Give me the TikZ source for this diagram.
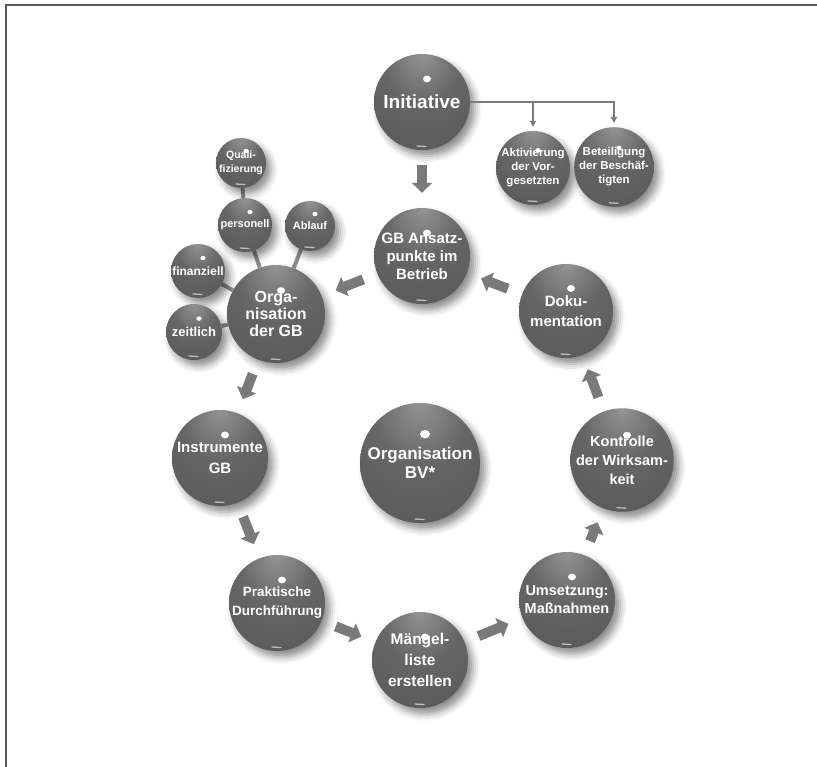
\documentclass[tikz,border=0pt]{standalone}
\usepackage{fontspec}
\setmainfont{Liberation Sans}
\usetikzlibrary{arrows.meta,shadows.blur,backgrounds}
\definecolor{arrowgray}{HTML}{7A7A7A}
\pgfdeclareradialshading{sphere}{\pgfpoint{0bp}{25bp}}{color(0bp)=(black!42);color(19bp)=(black!60);color(37bp)=(black!64);color(48bp)=(black!80);color(55bp)=(black!93);color(75bp)=(black!93)}
\tikzset{hl size/.store in=\hlsize, hl size=4pt}
\tikzset{ball/.style={circle, shading=sphere, text=white, align=center, inner sep=0pt,
  blur shadow={shadow xshift=5pt, shadow yshift=-6pt, shadow blur radius=7pt, shadow opacity=45},
  path picture={
    \path (path picture bounding box.north) -- (path picture bounding box.center) coordinate[pos=.52] (hl);
    \fill[white] ([xshift=5pt]hl) ellipse [x radius=\hlsize, y radius=0.85*\hlsize];
    \draw[white, opacity=.6, line width=1.3pt, line cap=round]
      ([xshift=-5pt,yshift=4pt]path picture bounding box.south) -- ([xshift=4pt,yshift=3.5pt]path picture bounding box.south);
  }}}

\begin{document}
\begin{tikzpicture}[x=1pt, y=-1pt,
  bigball/.style={ball, minimum size=96pt, hl size=4pt},
  smallball/.style={ball, minimum size=52pt, hl size=2.6pt},
  cyclearrow/.style={draw=arrowgray, line width=10pt, -{Triangle[width=20pt,length=10pt]},
    shorten <=15pt, shorten >=15pt},
  branch/.style={draw=arrowgray, line width=1.8pt, -{Triangle[width=6pt,length=6pt]}, shorten >=4pt},
  spoke/.style={draw=black!45, line width=4pt}]
\useasboundingbox (0,0) rectangle (817,767);
\draw[black!65, line width=1.5pt] (6,767) -- (6,5) -- (817,5);

\node[bigball, font=\fontsize{19}{22}\selectfont\bfseries] (init) at (422,102) {Initiative};
\node[smallball, minimum size=72pt, font=\fontsize{11.5}{14}\selectfont\bfseries] (akt) at (533,168) {Aktivierung\\der Vor-\\gesetzten};
\node[smallball, minimum size=72pt, font=\fontsize{11.5}{14}\selectfont\bfseries] (bet) at (614,167) {Beteiligung\\der Beschäf-\\tigten};
\node[bigball, font=\fontsize{15}{18}\selectfont\bfseries] (ansatz) at (422,256) {GB Ansatz-\\punkte im\\Betrieb};

\node[smallball, minimum size=50pt, font=\fontsize{10.5}{14}\selectfont\bfseries] (quali) at (241,163) {Quali-\\fizierung};
\node[smallball, minimum size=54pt, font=\fontsize{11}{13}\selectfont\bfseries] (pers) at (245,225) {personell};
\node[smallball, minimum size=50pt, font=\fontsize{11}{13}\selectfont\bfseries] (ablauf) at (310,226) {Ablauf};
\node[smallball, minimum size=54pt, font=\fontsize{12}{14}\selectfont\bfseries] (finanz) at (198,271) {finanziell};
\node[smallball, minimum size=56pt, font=\fontsize{13}{15}\selectfont\bfseries] (zeit) at (194,332) {zeitlich};
\node[bigball, minimum size=98pt, font=\fontsize{16}{17}\selectfont\bfseries] (orggb) at (276,314) {Orga-\\nisation\\der GB};

\node[bigball, font=\fontsize{15}{21}\selectfont\bfseries] (instr) at (220,458) {Instrumente\\GB};
\node[bigball, font=\fontsize{13.5}{19}\selectfont\bfseries] (prakt) at (277,603) {Praktische\\Durchführung};
\node[bigball, font=\fontsize{15.5}{21}\selectfont\bfseries] (maengel) at (420,660) {Mängel-\\liste\\erstellen};
\node[bigball, font=\fontsize{14.5}{18}\selectfont\bfseries] (umsetz) at (567,600) {Umsetzung:\\Maßnahmen};
\node[bigball, font=\fontsize{14.5}{19}\selectfont\bfseries] (kontr) at (622,460) {Kontrolle\\der Wirksam-\\keit};
\node[bigball, minimum size=94pt, font=\fontsize{15}{20}\selectfont\bfseries] (doku) at (566,311) {Doku-\\mentation};
\node[bigball, minimum size=120pt, hl size=5pt, font=\fontsize{17}{19}\selectfont\bfseries] (orgbv) at (420,463) {Organisation\\BV*};

\begin{pgfonlayer}{background}
\draw[spoke] (quali) -- (pers);
\draw[spoke] (pers) -- (orggb);
\draw[spoke] (ablauf) -- (orggb);
\draw[spoke] (finanz) -- (orggb);
\draw[spoke] (zeit) -- (orggb);
\end{pgfonlayer}

\draw[branch] (init.east) -| (akt);
\draw[branch] (init.east) -| (bet);

\draw[cyclearrow] (init) -- (ansatz);
\draw[cyclearrow] (ansatz) -- (orggb);
\draw[cyclearrow] (orggb) -- (instr);
\draw[cyclearrow] (instr) -- (prakt);
\draw[cyclearrow] (prakt) -- (maengel);
\draw[cyclearrow] (maengel) -- (umsetz);
\draw[cyclearrow] (umsetz) -- (kontr);
\draw[cyclearrow] (kontr) -- (doku);
\draw[cyclearrow] (doku) -- (ansatz);
\end{tikzpicture}
\end{document}
